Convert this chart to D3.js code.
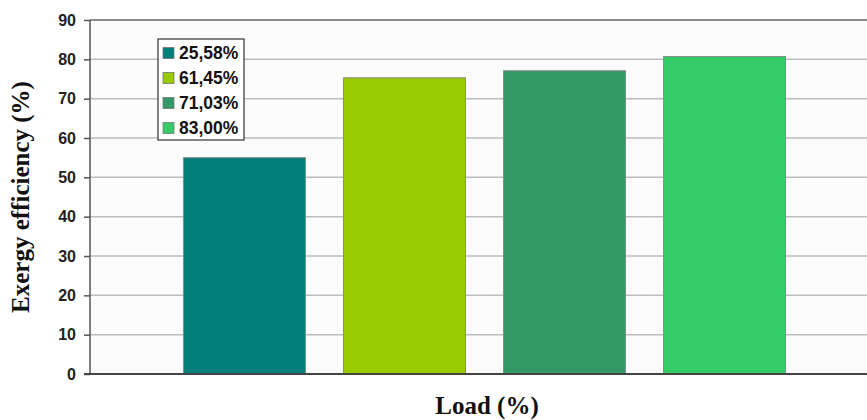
<!DOCTYPE html>
<html>
<head>
<meta charset="utf-8">
<script src="https://cdn.jsdelivr.net/npm/d3@7"></script>
<style>
  body { margin: 0; background: #fff; }
  .tick text { font-family: Arial, "Liberation Sans", sans-serif; font-weight: bold; font-size: 16px; fill: #222; }
  .axisTitle { font-family: "Liberation Serif", "Times New Roman", serif; font-weight: bold; font-size: 25px; fill: #111; }
  .legend text { font-family: Arial, "Liberation Sans", sans-serif; font-weight: bold; font-size: 17.5px; fill: #111; }
</style>
</head>
<body>
<div id="chart"></div>
<script>
// data
var loads = ["25,58%", "61,45%", "71,03%", "83,00%"];
var efficiency = [55, 75.3, 77.1, 80.7];
var colors = ["#007f7b", "#99cc00", "#339966", "#33cc66"];
var yTicks = [0, 10, 20, 30, 40, 50, 60, 70, 80, 90];

var svgWidth = 867;
var svgHeight = 420;

var margin = { top: 20, right: -12, bottom: 46, left: 90 };
var width = svgWidth - margin.left - margin.right;
var height = svgHeight - margin.top - margin.bottom;

var svg = d3.select("#chart")
  .append("svg")
  .attr("width", svgWidth)
  .attr("height", svgHeight);

var chartGroup = svg.append("g")
  .attr("transform", `translate(${margin.left}, ${margin.top})`);

// scales
var xScale = d3.scaleBand()
  .domain(loads)
  .range([0, width])
  .paddingInner(0.2375)
  .paddingOuter(0.584);

var yScale = d3.scaleLinear()
  .domain([0, 90])
  .range([height, 0]);

// plot background
chartGroup.append("rect")
  .attr("width", width)
  .attr("height", height)
  .attr("fill", "#fbfbfb");

// gridlines
chartGroup.selectAll(".grid")
  .data(yTicks.slice(1, -1))
  .enter()
  .append("line")
  .attr("x1", 0)
  .attr("x2", width)
  .attr("y1", d => yScale(d))
  .attr("y2", d => yScale(d))
  .attr("stroke", "#bdbdbd")
  .attr("stroke-width", 1.5);

// top border
chartGroup.append("line")
  .attr("x1", 0)
  .attr("x2", width)
  .attr("y1", yScale(90))
  .attr("y2", yScale(90))
  .attr("stroke", "#666")
  .attr("stroke-width", 1.5);

// bars
chartGroup.selectAll(".bar")
  .data(efficiency)
  .enter()
  .append("rect")
  .attr("x", (d, i) => xScale(loads[i]))
  .attr("y", d => yScale(d))
  .attr("width", xScale.bandwidth())
  .attr("height", d => height - yScale(d))
  .attr("fill", (d, i) => colors[i])
  .attr("stroke", "#8a8a8a")
  .attr("stroke-width", 1);

// axes
var leftAxis = d3.axisLeft(yScale)
  .tickValues(yTicks)
  .tickSize(6)
  .tickPadding(8);

var yAxisG = chartGroup.append("g")
  .call(leftAxis);
yAxisG.select(".domain")
  .attr("stroke", "#555")
  .attr("stroke-width", 1.5)
  .attr("d", `M0,${yScale(90)}V${height}`);
yAxisG.selectAll(".tick line")
  .attr("stroke", "#555")
  .attr("stroke-width", 1.5);

chartGroup.append("line")
  .attr("x1", -6)
  .attr("x2", width)
  .attr("y1", height)
  .attr("y2", height)
  .attr("stroke", "#444")
  .attr("stroke-width", 2);

// legend
var legend = chartGroup.append("g")
  .attr("class", "legend")
  .attr("transform", "translate(68, 19)");

legend.append("rect")
  .attr("width", 86)
  .attr("height", 101)
  .attr("fill", "#fff")
  .attr("stroke", "#333")
  .attr("stroke-width", 1.2);

var items = legend.selectAll(".item")
  .data(loads)
  .enter()
  .append("g")
  .attr("transform", (d, i) => `translate(5, ${14 + i * 25})`);

items.append("rect")
  .attr("y", -5.5)
  .attr("width", 11)
  .attr("height", 11)
  .attr("fill", (d, i) => colors[i])
  .attr("stroke", "#777")
  .attr("stroke-width", 0.8);

items.append("text")
  .attr("x", 16)
  .attr("dy", "0.36em")
  .text(d => d);

// axis titles
chartGroup.append("text")
  .attr("class", "axisTitle")
  .attr("transform", "rotate(-90)")
  .attr("x", -177)
  .attr("y", -61)
  .attr("text-anchor", "middle")
  .text("Exergy efficiency (%)");

svg.append("text")
  .attr("class", "axisTitle")
  .attr("x", 487)
  .attr("y", 414)
  .attr("text-anchor", "middle")
  .text("Load (%)");
</script>
</body>
</html>
